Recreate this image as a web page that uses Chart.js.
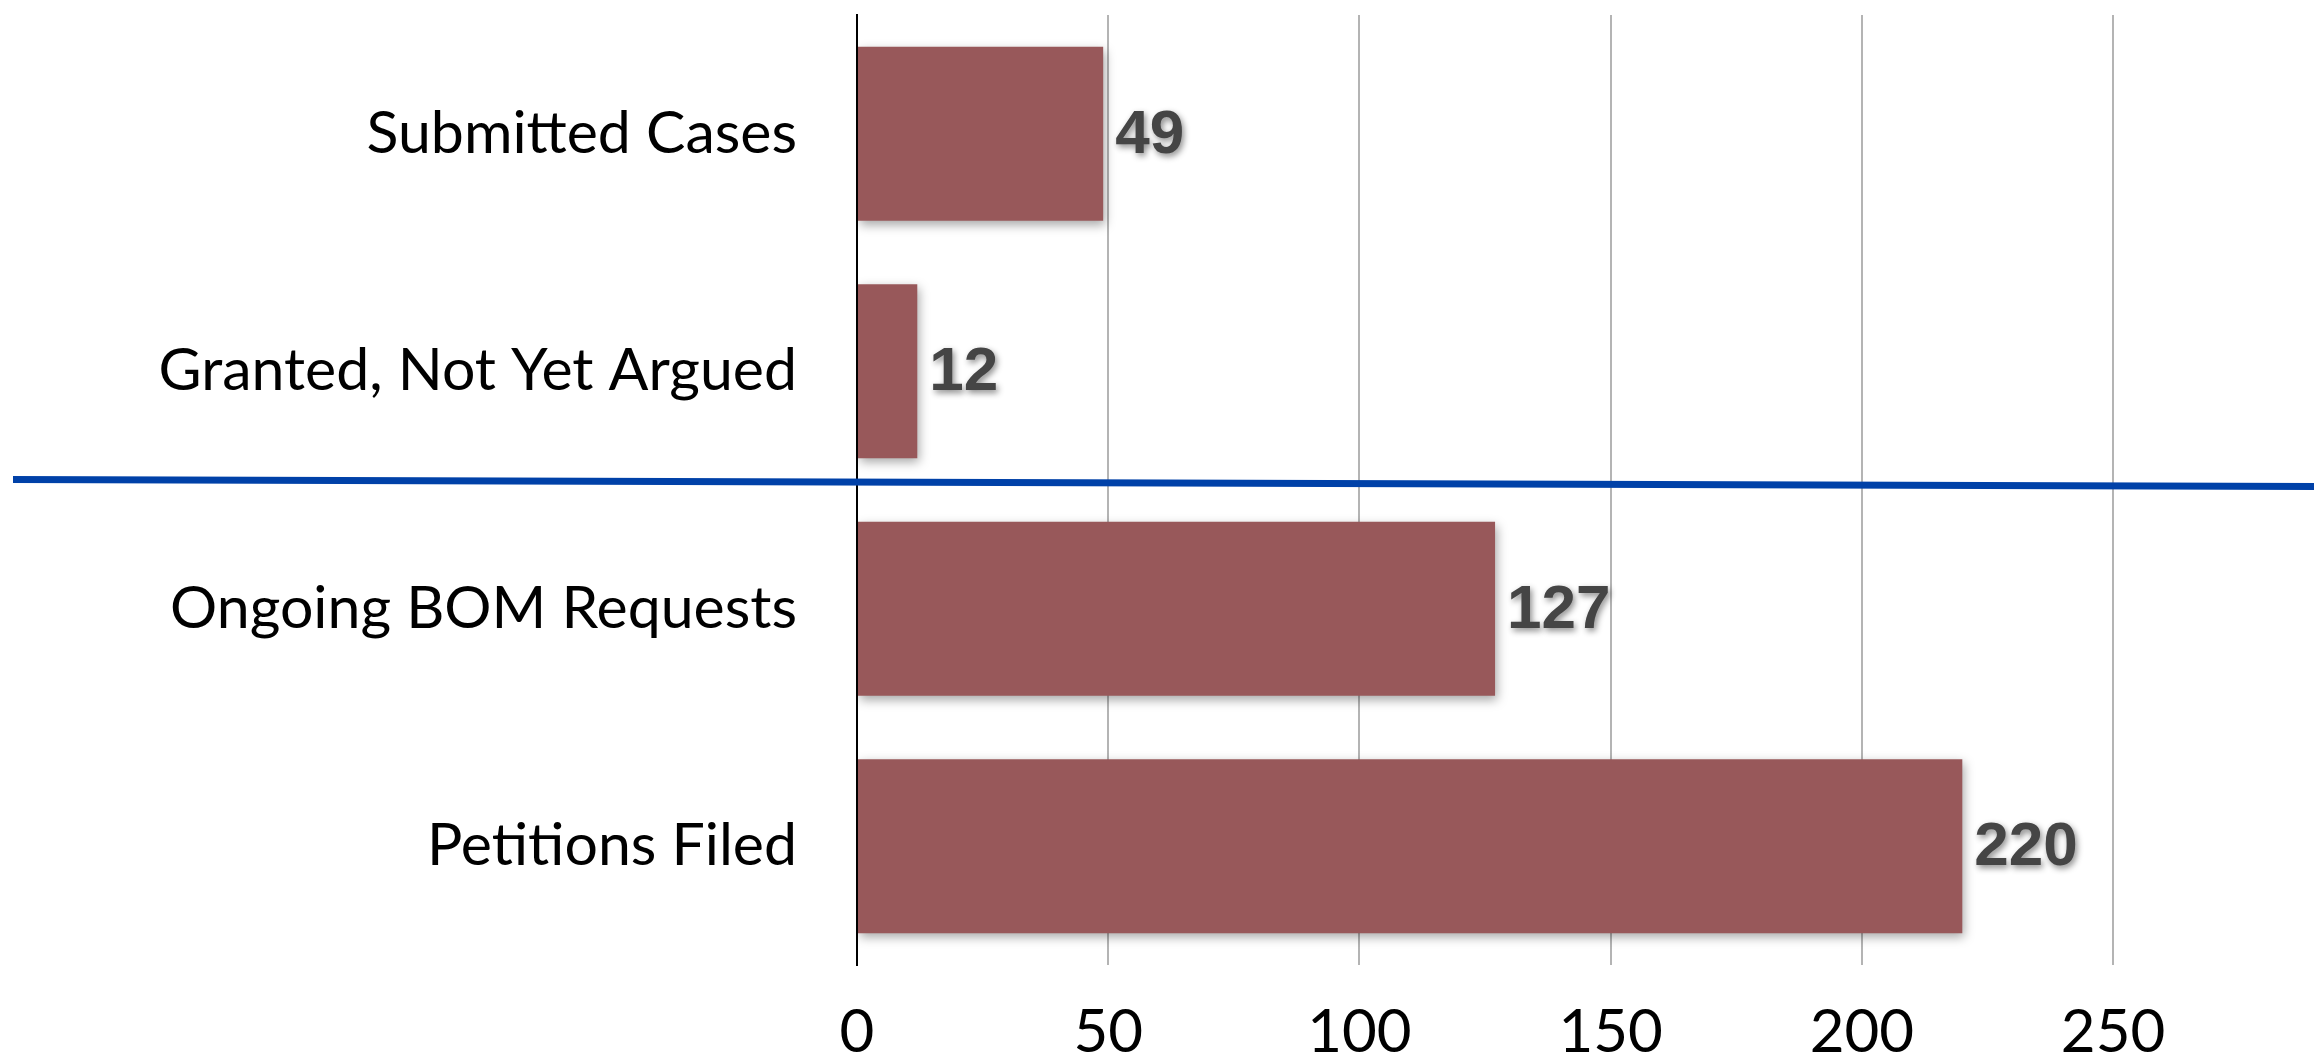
<!DOCTYPE html>
<html>
<head>
<meta charset="utf-8">
<title>Cases</title>
<script src="https://cdn.jsdelivr.net/npm/chart.js@4/dist/chart.umd.min.js"></script>
<style>
	html, body { margin: 0; padding: 0; background: #ffffff; }
	#wrap { width: 2314px; height: 1060px; position: relative; }
</style>
</head>
<body>
<div id="wrap"><canvas id="chart-cases"></canvas></div>
<script>
var categories = ["Submitted Cases", "Granted, Not Yet Argued", "Ongoing BOM Requests", "Petitions Filed"];
var caseCounts = [49, 12, 127, 220];
var tickValues = [0, 50, 100, 150, 200, 250];
var axisMax = 290;

// the blue divider sits between the 2nd and 3rd category (left / right end, in category units)
var dividerAt = [1.456, 1.485];

var labelFont = "Lato, 'Open Sans', sans-serif";

// soft shadow under the bars
var barShadow = {
	id: "barShadow",
	beforeDatasetsDraw: function(chart)
	{
		var ctx = chart.ctx;
		ctx.save();
		ctx.shadowColor = "rgba(0,0,0,0.35)";
		ctx.shadowBlur = 10;
		ctx.shadowOffsetX = 2;
		ctx.shadowOffsetY = 4;
	},
	afterDatasetsDraw: function(chart)
	{
		chart.ctx.restore();
	}
};

// value next to each bar
var valueLabels = {
	id: "valueLabels",
	afterDatasetsDraw: function(chart)
	{
		var ctx = chart.ctx;
		var meta = chart.getDatasetMeta(0);
		ctx.save();
		ctx.font = "bold 62px 'Liberation Sans', Arial, sans-serif";
		ctx.fillStyle = "#454545";
		ctx.textAlign = "left";
		ctx.textBaseline = "middle";
		ctx.shadowColor = "rgba(0,0,0,0.45)";
		ctx.shadowBlur = 6;
		ctx.shadowOffsetX = 2;
		ctx.shadowOffsetY = 3;
		meta.data.forEach(function(bar, i)
		{
			ctx.fillText(String(caseCounts[i]), bar.x + 12, bar.y + 2);
		});
		ctx.restore();
	}
};

var divider = {
	id: "divider",
	afterDraw: function(chart)
	{
		var ctx = chart.ctx;
		var y = chart.scales.y;
		ctx.save();
		ctx.strokeStyle = "#0041a8";
		ctx.lineWidth = 7;
		ctx.beginPath();
		ctx.moveTo(13, y.getPixelForValue(dividerAt[0]));
		ctx.lineTo(chart.width, y.getPixelForValue(dividerAt[1]));
		ctx.stroke();
		ctx.restore();
	}
};

new Chart("chart-cases", {
	type: "bar",
	data: {
		labels: categories,
		datasets: [{
			data: caseCounts,
			backgroundColor: "#98585a",
			borderWidth: 0,
			categoryPercentage: 1,
			barPercentage: 0.733
		}]
	},
	options: {
		indexAxis: "y",
		responsive: true,
		maintainAspectRatio: false,
		animation: false,
		layout: { padding: { top: 15, left: 0, right: 0, bottom: 0 } },
		plugins: {
			legend: { display: false },
			tooltip: { enabled: false }
		},
		scales: {
			x: {
				min: 0,
				max: axisMax,
				afterBuildTicks: function(scale)
				{
					scale.ticks = tickValues.map(function(v) { return { value: v }; });
				},
				afterFit: function(scale)
				{
					scale.height = 95;
					scale.paddingLeft = 0;
					scale.paddingRight = 0;
				},
				grid: {
					color: function(c) { return c.tick && c.tick.value === 0 ? "rgba(0,0,0,0)" : "#b4b4b4"; },
					lineWidth: 2,
					drawTicks: false
				},
				border: { display: false },
				ticks: {
					color: "#000000",
					padding: 32,
					font: { family: labelFont, size: 60 }
				}
			},
			y: {
				afterFit: function(scale)
				{
					scale.width = 857;
					// labels sit well inside the bands, no extra room needed above/below
					scale.paddingTop = 0;
					scale.paddingBottom = 0;
				},
				grid: { display: false, drawTicks: false },
				border: { display: true, color: "#000000", width: 2 },
				ticks: {
					color: "#000000",
					padding: 60,
					font: { family: labelFont, size: 59 }
				}
			}
		}
	},
	plugins: [barShadow, valueLabels, divider]
});
</script>
</body>
</html>
